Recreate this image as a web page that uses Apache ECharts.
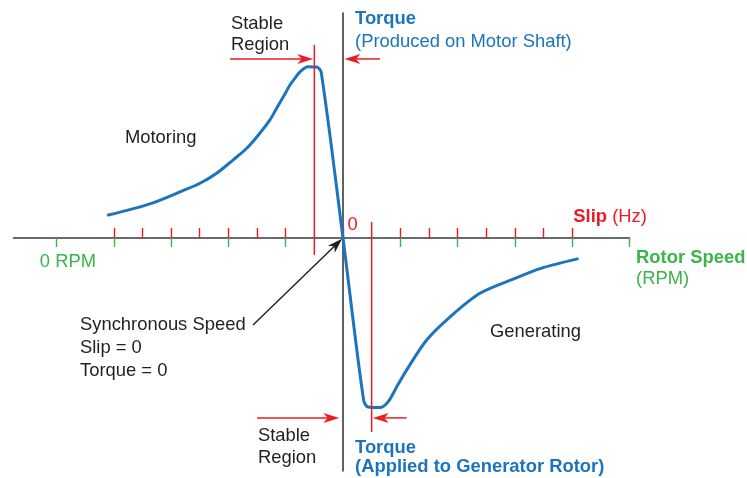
<!DOCTYPE html>
<html>
<head>
<meta charset="utf-8">
<script src="https://cdn.jsdelivr.net/npm/echarts@6/dist/echarts.min.js"></script>
<style>
  html, body { margin: 0; padding: 0; background: #fff; }
  #chart { width: 747px; height: 478px; }
</style>
</head>
<body>
<div id="chart"></div>
<script>
// Torque–slip characteristic of an induction machine.
// x: slip (one unit per red slip tick, 0 = synchronous speed), y: torque.

// Motoring branch (negative slip side of the plot, positive torque)
const motoringCurve = [
  [-8.19, 0.80], [-6.74, 1.19], [-5.57, 1.66], [-4.99, 1.91], [-4.41, 2.26],
  [-3.84, 2.72], [-3.36, 3.13], [-2.90, 3.66], [-2.55, 4.12], [-2.31, 4.54],
  [-2.08, 4.93], [-1.85, 5.34], [-1.68, 5.57], [-1.50, 5.80], [-1.22, 5.98],
  [-0.92, 5.97], [-0.76, 5.78]
];
// Synchronous point: slip = 0, torque = 0
const syncPoint = [0, 0];
// Generating branch (negative torque)
const generatingCurve = [
  [0.72, -5.66], [0.88, -5.90], [1.29, -5.92], [1.58, -5.71], [1.90, -5.15],
  [2.22, -4.61], [2.92, -3.56], [3.74, -2.75], [4.78, -1.93], [6.00, -1.41],
  [6.91, -1.06], [8.18, -0.73]
];

// Tick values along the horizontal axis
const slipTicks = [-8, -7, -6, -5, -4, -3, -2, 0, 2, 3, 4, 5, 6, 7, 8];
const speedTicks = [-10, -8, -6, -4, -2, 0, 2, 4, 6, 8, 10];

// Stable-region boundaries (pull-out slip) as vertical segments [x1, y1, x2, y2]
const stableLimits = [
  [-1, -0.59, -1, 6.74],
  [1, 0.56, 1, -6.77]
];
// Arrows bracketing the stable region [fromX, fromY, toX, toY]
const stableArrows = [
  [-3.94, 6.25, -1.04, 6.25],
  [1.29, 6.25, 0.05, 6.25],
  [-3.0, -6.28, -0.13, -6.28],
  [2.22, -6.28, 1.04, -6.28]
];
// Pointer to the synchronous-speed point
const syncArrow = [
  [-3.14, -3.04, -0.03, -0.03]
];

// Text annotations, anchored at their left-middle in axis units
const labelTexts = [
  { text: 'Stable\nRegion', kind: 'dark' },
  { text: '{b|Torque}', kind: 'blue' },
  { text: '(Produced on Motor Shaft)', kind: 'blue' },
  { text: 'Motoring', kind: 'dark' },
  { text: '0', kind: 'red' },
  { text: '{b|Slip} (Hz)', kind: 'red' },
  { text: '0 RPM', kind: 'green' },
  { text: '{b|Rotor Speed}', kind: 'green' },
  { text: '(RPM)', kind: 'green' },
  { text: 'Synchronous Speed\nSlip = 0\nTorque = 0', kind: 'dark' },
  { text: 'Generating', kind: 'dark' },
  { text: 'Stable\nRegion', kind: 'dark' },
  { text: '{b|Torque}', kind: 'blue' },
  { text: '{b|(Applied to Generator Rotor)}', kind: 'blue' }
];
const labelAnchors = [
  [-3.91, 7.10],
  [0.42, 7.64],
  [0.42, 6.85],
  [-7.61, 3.50],
  [0.16, 0.45],
  [8.04, 0.74],
  [-10.58, -0.83],
  [10.23, -0.71],
  [10.23, -1.44],
  [-9.18, -3.85],
  [5.13, -3.27],
  [-2.97, -7.29],
  [0.42, -7.32],
  [0.42, -8.0]
];

const BLUE = '#1c75bc';
const RED = '#ed1c24';
const GREEN = '#39b54a';
const DARK = '#231f20';
const AXIS = '#3a3a3a';
const FONT = '"Liberation Sans", Arial, Helvetica, sans-serif';
const kindColor = { dark: DARK, blue: BLUE, red: RED, green: GREEN };

const torqueCurve = motoringCurve.concat([syncPoint], generatingCurve);

const GRID = { left: 13.5, right: 117.5, top: 13, bottom: 7 };
const Y_MIN = -8.133, Y_MAX = 7.853;
const CHART_H = 478;

function arrowParts(p1, p2, color, width, len, half) {
  const dx = p2[0] - p1[0], dy = p2[1] - p1[1];
  const d = Math.hypot(dx, dy);
  const ux = dx / d, uy = dy / d, nx = -uy, ny = ux;
  const shaftEnd = [p2[0] - ux * len * 0.6, p2[1] - uy * len * 0.6];
  return [
    {
      type: 'line',
      shape: { x1: p1[0], y1: p1[1], x2: shaftEnd[0], y2: shaftEnd[1] },
      style: { stroke: color, lineWidth: width }
    },
    {
      type: 'polygon',
      shape: {
        points: [
          p2,
          [p2[0] - ux * len + nx * half, p2[1] - uy * len + ny * half],
          [p2[0] - ux * len * 0.72, p2[1] - uy * len * 0.72],
          [p2[0] - ux * len - nx * half, p2[1] - uy * len - ny * half]
        ]
      },
      style: { fill: color }
    }
  ];
}

// The speed axis sits on the torque = 0 line; ECharts only lets one x axis snap
// to zero, so this one is lifted from the grid bottom by the zero's height.
const plotH = CHART_H - GRID.top - GRID.bottom;
const zeroLift = plotH * (0 - Y_MIN) / (Y_MAX - Y_MIN);

const chart = echarts.init(document.getElementById('chart'), null, { renderer: 'canvas' });

chart.setOption({
  animation: false,
  backgroundColor: '#ffffff',
  grid: Object.assign({ containLabel: false }, GRID),
  xAxis: [
    {
      // slip scale: red ticks rising from the axis
      type: 'value', position: 'top', min: -11.5, max: 10,
      axisLine: { show: true, onZero: true, lineStyle: { color: AXIS, width: 1.6 } },
      axisTick: { show: true, inside: false, length: 10, customValues: slipTicks,
                  lineStyle: { color: RED, width: 1.4 } },
      axisLabel: { show: false },
      splitLine: { show: false }
    },
    {
      // rotor speed scale: green ticks hanging below the axis
      type: 'value', position: 'bottom', min: -11.5, max: 10,
      offset: -zeroLift,
      axisLine: { show: false, onZero: false },
      axisTick: { show: true, inside: false, length: 9, customValues: speedTicks,
                  lineStyle: { color: GREEN, width: 1.4 } },
      axisLabel: { show: false },
      splitLine: { show: false }
    }
  ],
  yAxis: {
    type: 'value', min: Y_MIN, max: Y_MAX,
    axisLine: { show: true, onZero: true, lineStyle: { color: AXIS, width: 1.6 } },
    axisTick: { show: false },
    axisLabel: { show: false },
    splitLine: { show: false }
  },
  series: [
    {
      type: 'line',
      name: 'Torque',
      xAxisIndex: 0,
      data: torqueCurve,
      smooth: 0.3,
      showSymbol: false,
      symbol: 'none',
      lineStyle: { color: BLUE, width: 3, cap: 'round', join: 'round' },
      z: 3
    },
    {
      type: 'custom',
      name: 'Stable limits',
      clip: false,
      z: 4,
      data: stableLimits,
      renderItem: function (params, api) {
        const a = api.coord([api.value(0), api.value(1)]);
        const b = api.coord([api.value(2), api.value(3)]);
        return { type: 'line', shape: { x1: a[0], y1: a[1], x2: b[0], y2: b[1] },
                 style: { stroke: RED, lineWidth: 1.5 } };
      }
    },
    {
      type: 'custom',
      name: 'Stable arrows',
      clip: false,
      z: 4,
      data: stableArrows,
      renderItem: function (params, api) {
        const a = api.coord([api.value(0), api.value(1)]);
        const b = api.coord([api.value(2), api.value(3)]);
        return { type: 'group', children: arrowParts(a, b, RED, 1.5, 16, 5) };
      }
    },
    {
      type: 'custom',
      name: 'Synchronous pointer',
      clip: false,
      z: 5,
      data: syncArrow,
      renderItem: function (params, api) {
        const a = api.coord([api.value(0), api.value(1)]);
        const b = api.coord([api.value(2), api.value(3)]);
        return { type: 'group', children: arrowParts(a, b, DARK, 1.4, 15, 5) };
      }
    },
    {
      type: 'custom',
      name: 'Labels',
      clip: false,
      z: 6,
      data: labelAnchors,
      renderItem: function (params, api) {
        const p = api.coord([api.value(0), api.value(1)]);
        const lab = labelTexts[params.dataIndex];
        const color = kindColor[lab.kind];
        const multi = lab.text.indexOf('Synchronous') === 0;
        return {
          type: 'text',
          x: p[0], y: p[1],
          style: {
            text: lab.text,
            fill: color,
            fontSize: 18.4,
            fontFamily: FONT,
            fontWeight: 'normal',
            lineHeight: multi ? 23 : 21.5,
            align: 'left',
            verticalAlign: 'middle',
            rich: {
              b: { fontWeight: 'bold', fontSize: 18.4, fontFamily: FONT, fill: color, color: color }
            }
          }
        };
      }
    }
  ]
});
</script>
</body>
</html>
